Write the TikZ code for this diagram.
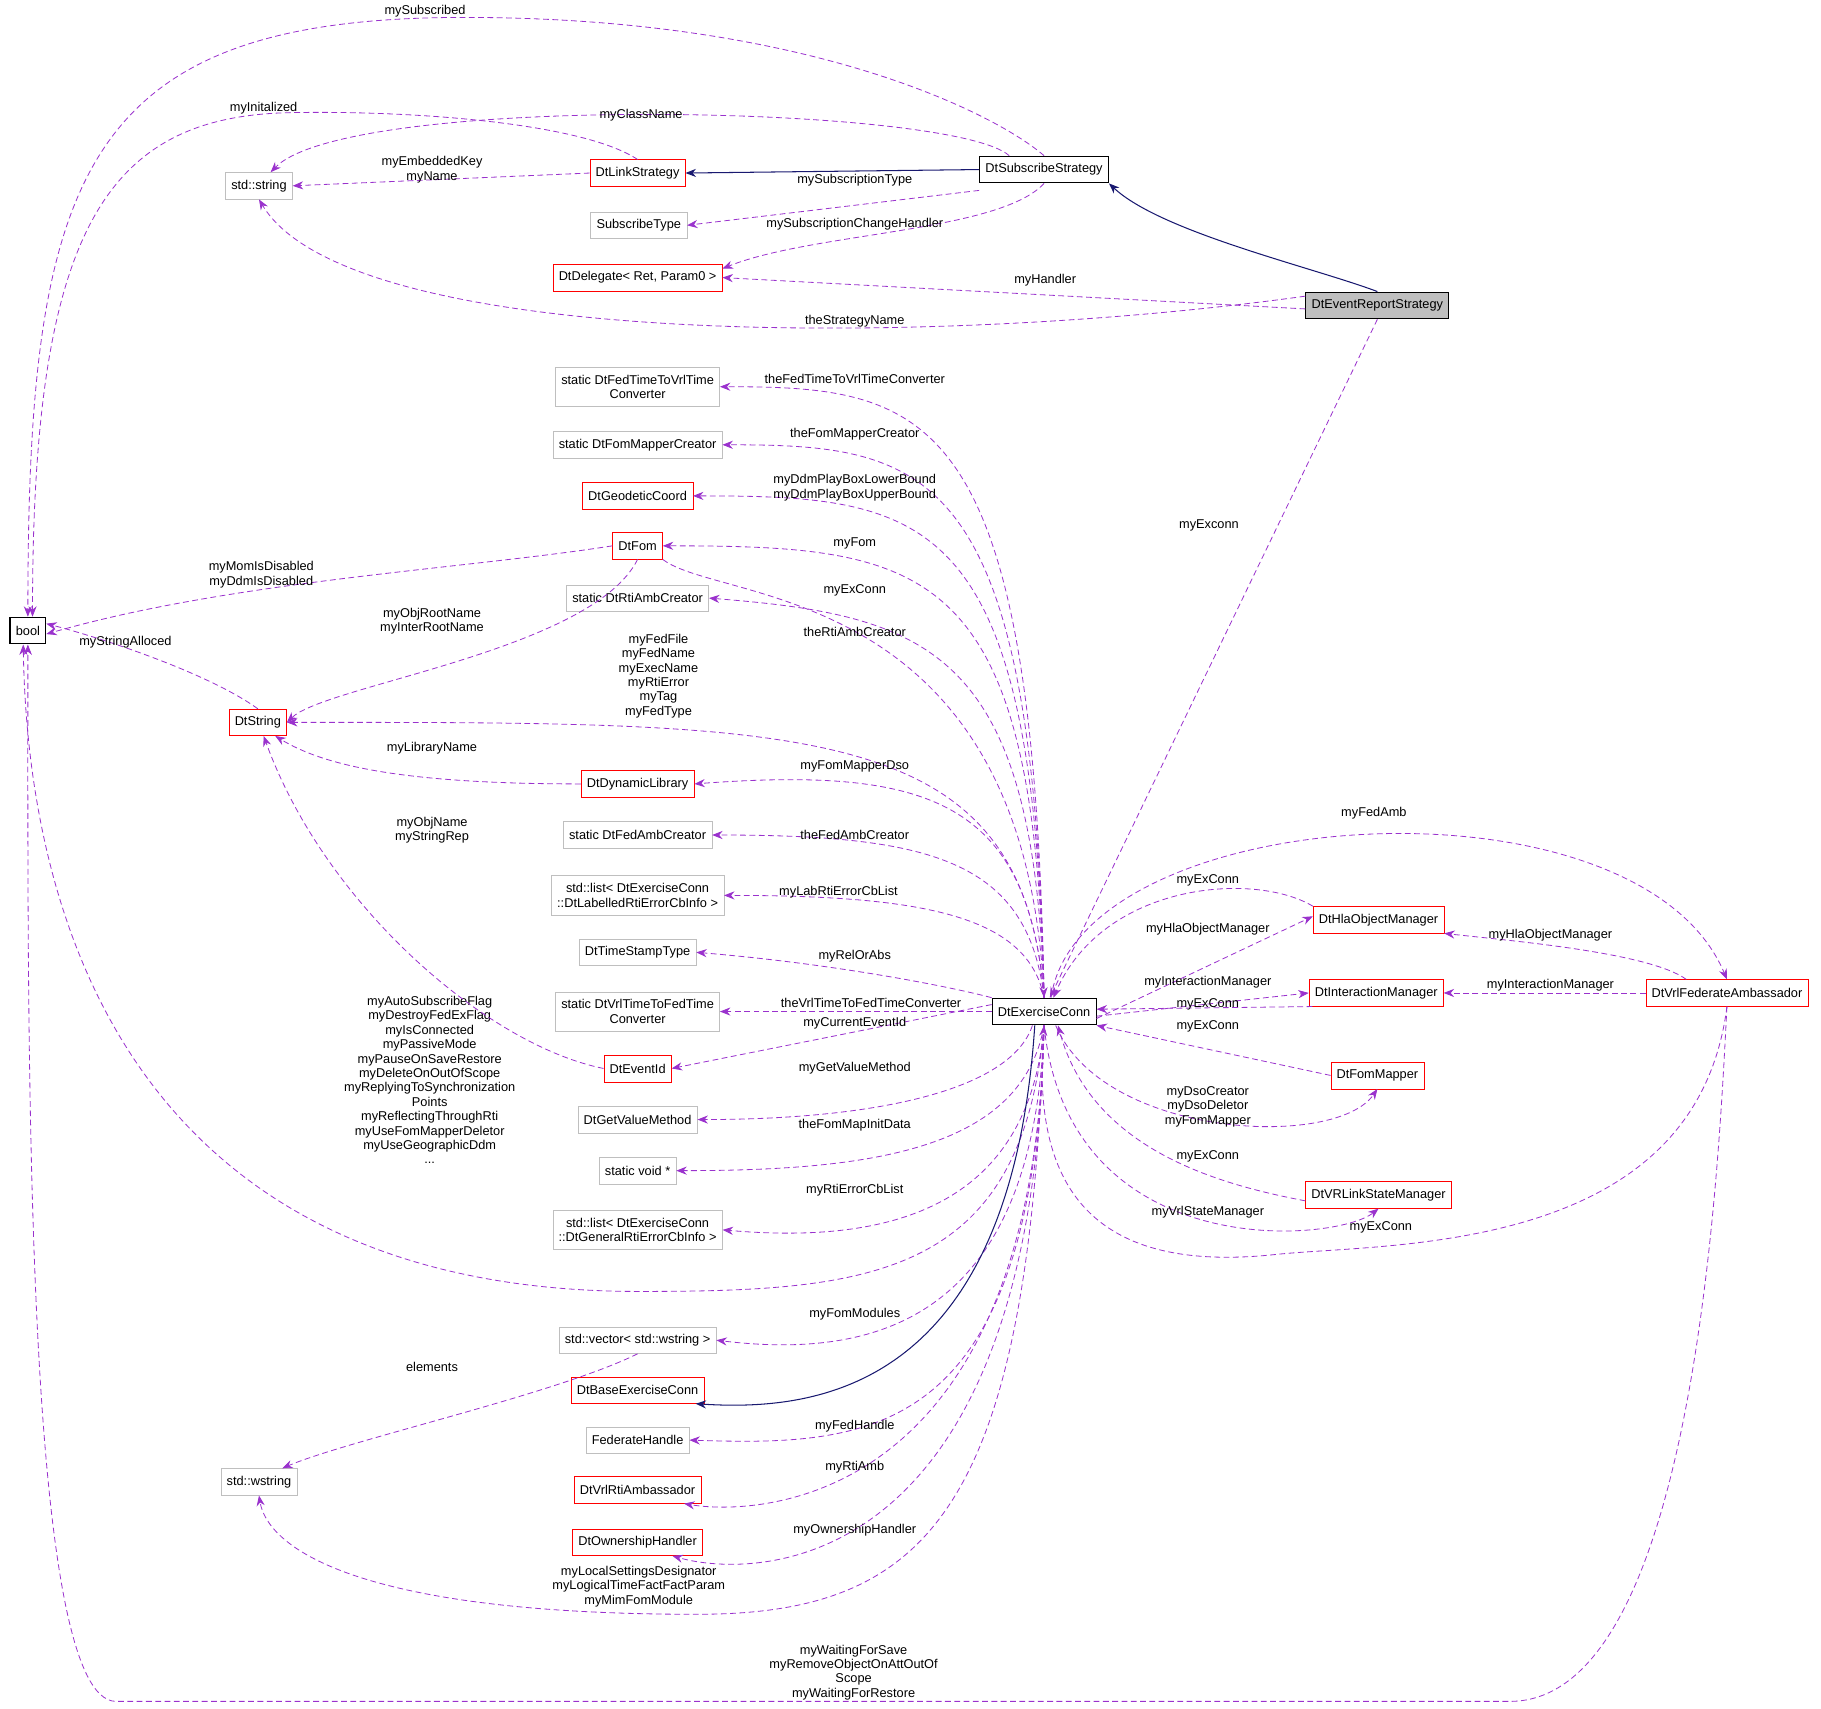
\documentclass[tikz,border=0pt]{standalone}
\usepackage{fontspec}
\setmainfont{Liberation Sans}
\usetikzlibrary{arrows.meta}
\definecolor{pu}{HTML}{9A32CD}
\definecolor{nv}{HTML}{191970}
\definecolor{gb}{HTML}{BFBFBF}
\begin{document}
\begin{tikzpicture}[x=1pt,y=-1pt,font=\fontsize{11}{12.4}\selectfont,
 box/.style={draw,rectangle,inner xsep=5pt,minimum height=23pt,align=center,fill=white},
 bk/.style={box,draw=black,line width=0.9pt},
 gr/.style={box,draw=gb},
 rd/.style={box,draw=red},
 gr2/.style={gr,minimum height=34pt,inner ysep=1pt},
 lbl/.style={align=center,inner sep=1pt},
 dep/.style={draw=pu,dash pattern=on 5pt off 3pt,-{Stealth[length=9pt,width=7pt]},color=pu,line width=0.7pt},
 inh/.style={draw=nv,-{Stealth[length=9pt,width=7pt]},color=nv,line width=0.9pt}]
\useasboundingbox (0,0) rectangle (1568,1471);
% nodes
\node[bk] (bool) at (24,543) {bool};
\node[gr] (str) at (223,160) {std::string};
\node[gr] (subt) at (550,194) {SubscribeType};
\node[rd] (del) at (549,239) {DtDelegate< Ret, Param0 >};
\node[rd] (link) at (549,149) {DtLinkStrategy};
\node[bk] (subs) at (899,146) {DtSubscribeStrategy};
\node[box,draw=black,fill=gb,line width=0.9pt] (evt) at (1186,263) {DtEventReportStrategy};
\node[gr2] (f2v) at (549,333) {static DtFedTimeToVrlTime\\Converter};
\node[gr] (fmc) at (549,383) {static DtFomMapperCreator};
\node[rd] (geo) at (549,427) {DtGeodeticCoord};
\node[rd] (fom) at (549,470) {DtFom};
\node[gr] (rac) at (549,515) {static DtRtiAmbCreator};
\node[rd] (dstr) at (222,622) {DtString};
\node[rd] (dyn) at (549,675) {DtDynamicLibrary};
\node[gr] (fac) at (549,719) {static DtFedAmbCreator};
\node[gr2] (l1) at (549,771) {std::list< DtExerciseConn\\::DtLabelledRtiErrorCbInfo >};
\node[gr] (tst) at (549,820) {DtTimeStampType};
\node[gr2] (v2f) at (549,871) {static DtVrlTimeToFedTime\\Converter};
\node[rd] (eid) at (549,920) {DtEventId};
\node[gr] (gvm) at (549,964) {DtGetValueMethod};
\node[gr] (sv) at (549,1008) {static void *};
\node[gr2] (l2) at (549,1059) {std::list< DtExerciseConn\\::DtGeneralRtiErrorCbInfo >};
\node[gr] (vec) at (549,1154) {std::vector< std::wstring >};
\node[rd] (base) at (549,1197) {DtBaseExerciseConn};
\node[gr] (fh) at (549,1240) {FederateHandle};
\node[gr] (ws) at (223,1276) {std::wstring};
\node[rd] (vra) at (549,1283) {DtVrlRtiAmbassador};
\node[rd] (own) at (549,1328) {DtOwnershipHandler};
\node[bk] (ex) at (899,871) {DtExerciseConn};
\node[rd] (hla) at (1187,792) {DtHlaObjectManager};
\node[rd] (im) at (1185,855) {DtInteractionManager};
\node[rd] (fm) at (1186,926) {DtFomMapper};
\node[rd] (vls) at (1187,1029) {DtVRLinkStateManager};
\node[rd] (fa) at (1487,855) {DtVrlFederateAmbassador};
% top
\draw[dep] (subs.north) .. controls (860,100) and (700,15) .. (400,15) .. controls (70,15) and (24,150) .. (bool.north);
\node[lbl] at (366,10) {mySubscribed};
\draw[dep] (link.north) .. controls (500,105) and (350,95) .. (250,97) .. controls (90,100) and (28,200) .. ([xshift=4]bool.north);
\node[lbl] at (227,93) {myInitalized};
\draw[dep] ([xshift=-30]subs.north) .. controls (820,90) and (300,80) .. ([xshift=10]str.north);
\node[lbl] at (552,99) {myClassName};
\draw[dep] (link.west) -- (str.east);
\node[lbl] at (372,146) {myEmbeddedKey\\myName};
\draw[dep] ([yshift=-6]subs.south west) -- (subt.east);
\node[lbl] at (736,155) {mySubscriptionType};
\draw[dep] (subs.south) .. controls (860,200) and (700,200) .. ([yshift=-4]del.north east);
\node[lbl] at (736,193) {mySubscriptionChangeHandler};
\draw[inh] (subs.west) -- (link.east);
\draw[inh] (evt.north) .. controls (1130,230) and (1000,200) .. (subs.south east);
\draw[dep] ([yshift=-3]evt.west) -- (del.east);
\node[lbl] at (900,241) {myHandler};
\draw[dep] ([yshift=8]evt.west) .. controls (800,300) and (300,300) .. (str.south);
\node[lbl] at (736,277) {theStrategyName};
\draw[dep] (evt.south) -- ([xshift=5]ex.north);
\node[lbl] at (1041,452) {myExconn};
% left column from ex
\draw[dep] (ex.north) .. controls (890,350) and (800,333) .. (f2v.east);
\node[lbl] at (736,326) {theFedTimeToVrlTimeConverter};
\draw[dep] (ex.north) .. controls (890,400) and (800,383) .. (fmc.east);
\node[lbl] at (736,374) {theFomMapperCreator};
\draw[dep] (ex.north) .. controls (890,440) and (800,427) .. (geo.east);
\node[lbl] at (736,420) {myDdmPlayBoxLowerBound\\myDdmPlayBoxUpperBound};
\draw[dep] (ex.north) .. controls (890,485) and (800,470) .. (fom.east);
\node[lbl] at (736,468) {myFom};
\draw[dep] (fom.south east) .. controls (620,520) and (880,500) .. (ex.north);
\node[lbl] at (736,508) {myExConn};
\draw[dep] (ex.north) .. controls (890,560) and (800,530) .. (rac.east);
\node[lbl] at (736,544) {theRtiAmbCreator};
\draw[dep] (ex.north) .. controls (880,620) and (700,622) .. (dstr.east);
\node[lbl] at (567,582) {myFedFile\\myFedName\\myExecName\\myRtiError\\myTag\\myFedType};
\draw[dep] (ex.north) .. controls (885,690) and (800,660) .. (dyn.east);
\node[lbl] at (736,660) {myFomMapperDso};
\draw[dep] (ex.north) .. controls (885,740) and (800,719) .. (fac.east);
\node[lbl] at (736,719) {theFedAmbCreator};
\draw[dep] (ex.north) .. controls (885,790) and (800,771) .. (l1.east);
\node[lbl] at (722,768) {myLabRtiErrorCbList};
\draw[dep] (ex.north west) .. controls (820,850) and (720,830) .. (tst.east);
\node[lbl] at (736,823) {myRelOrAbs};
\draw[dep] (ex.west) -- (v2f.east);
\node[lbl] at (750,864) {theVrlTimeToFedTimeConverter};
\draw[dep] ([yshift=6]ex.west) -- (eid.east);
\node[lbl] at (736,881) {myCurrentEventId};
\draw[dep] ([xshift=-10]ex.south) .. controls (870,940) and (750,964) .. (gvm.east);
\node[lbl] at (736,920) {myGetValueMethod};
\draw[dep] (ex.south) .. controls (880,990) and (750,1008) .. (sv.east);
\node[lbl] at (736,969) {theFomMapInitData};
\draw[dep] (ex.south) .. controls (885,1050) and (750,1070) .. (l2.east);
\node[lbl] at (736,1025) {myRtiErrorCbList};
\draw[dep] (ex.south) .. controls (880,1100) and (750,1112) .. (550,1112) .. controls (120,1112) and (24,800) .. ([xshift=-4]bool.south);
\node[lbl] at (370,930) {myAutoSubscribeFlag\\myDestroyFedExFlag\\myIsConnected\\myPassiveMode\\myPauseOnSaveRestore\\myDeleteOnOutOfScope\\myReplyingToSynchronization\\Points\\myReflectingThroughRti\\myUseFomMapperDeletor\\myUseGeographicDdm\\...};
\draw[dep] (ex.south) .. controls (890,1140) and (750,1170) .. (vec.east);
\node[lbl] at (736,1132) {myFomModules};
\draw[inh] ([xshift=-8]ex.south) .. controls (870,1200) and (700,1215) .. ([xshift=50]base.south);
\draw[dep] (ex.south) .. controls (890,1240) and (750,1245) .. (fh.east);
\node[lbl] at (736,1228) {myFedHandle};
\draw[dep] (ex.south) .. controls (890,1300) and (650,1305) .. ([xshift=40]vra.south);
\node[lbl] at (736,1263) {myRtiAmb};
\draw[dep] (ex.south) .. controls (890,1360) and (650,1360) .. ([xshift=30]own.south);
\node[lbl] at (736,1318) {myOwnershipHandler};
\draw[dep] (ex.south) .. controls (885,1300) and (800,1390) .. (600,1390) .. controls (300,1390) and (230,1330) .. (ws.south);
\node[lbl] at (550,1366) {myLocalSettingsDesignator\\myLogicalTimeFactFactParam\\myMimFomModule};
\draw[dep] (vec.south) .. controls (480,1200) and (300,1240) .. ([xshift=20]ws.north);
\node[lbl] at (372,1177) {elements};
\draw[dep] (fom.west) .. controls (400,490) and (200,500) .. ([yshift=-3]bool.east);
\node[lbl] at (225,495) {myMomIsDisabled\\myDdmIsDisabled};
\draw[dep] (fom.south) .. controls (510,560) and (280,590) .. (dstr.east);
\node[lbl] at (372,535) {myObjRootName\\myInterRootName};
\draw[dep] (dstr.north) .. controls (180,580) and (90,550) .. ([yshift=6]bool.east);
\node[lbl] at (108,553) {myStringAlloced};
\draw[dep] (dyn.west) .. controls (350,675) and (280,660) .. ([xshift=15]dstr.south);
\node[lbl] at (372,644) {myLibraryName};
\draw[dep] (eid.west) .. controls (420,900) and (280,780) .. ([xshift=5]dstr.south);
\node[lbl] at (372,715) {myObjName\\myStringRep};
% right side
\draw[dep] ([xshift=6]ex.north) .. controls (930,690) and (1410,660) .. (fa.north);
\node[lbl] at (1183,700) {myFedAmb};
\draw[dep] (hla.north west) .. controls (1080,750) and (950,760) .. ([xshift=8]ex.north);
\node[lbl] at (1040,758) {myExConn};
\draw[dep] ([yshift=-6]ex.east) -- ([yshift=3]hla.west);
\node[lbl] at (1040,800) {myHlaObjectManager};
\draw[dep] ([yshift=-4]ex.east) -- (im.west);
\node[lbl] at (1040,846) {myInteractionManager};
\draw[dep] ([xshift=-55]im.south) -- ([yshift=2]ex.east);
\node[lbl] at (1040,865) {myExConn};
\draw[dep] (fm.west) -- (ex.south east);
\node[lbl] at (1040,884) {myExConn};
\draw[dep] ([xshift=10]ex.south) .. controls (950,980) and (1150,990) .. (fm.south);
\node[lbl] at (1040,953) {myDsoCreator\\myDsoDeletor\\myFomMapper};
\draw[dep] ([yshift=-5]vls.west) .. controls (1050,1020) and (940,990) .. ([xshift=12]ex.south);
\node[lbl] at (1040,996) {myExConn};
\draw[dep] (ex.south) .. controls (920,1090) and (1150,1070) .. (vls.south);
\node[lbl] at (1040,1044) {myVrlStateManager};
\draw[dep] (fa.south) .. controls (1460,1080) and (1200,1070) .. (1100,1080) .. controls (920,1100) and (890,1000) .. (ex.south);
\node[lbl] at (1189,1057) {myExConn};
\draw[dep] ([xshift=-35]fa.north) .. controls (1420,820) and (1300,810) .. (hla.south east);
\node[lbl] at (1335,805) {myHlaObjectManager};
\draw[dep] (fa.west) -- (im.east);
\node[lbl] at (1335,848) {myInteractionManager};
\draw[dep] (fa.south) .. controls (1480,1000) and (1460,1465) .. (1300,1465) -- (100,1465) .. controls (20,1465) and (24,900) .. ([xshift=0]bool.south);
\node[lbl] at (735,1440) {myWaitingForSave\\myRemoveObjectOnAttOutOf\\Scope\\myWaitingForRestore};
\end{tikzpicture}
\end{document}
